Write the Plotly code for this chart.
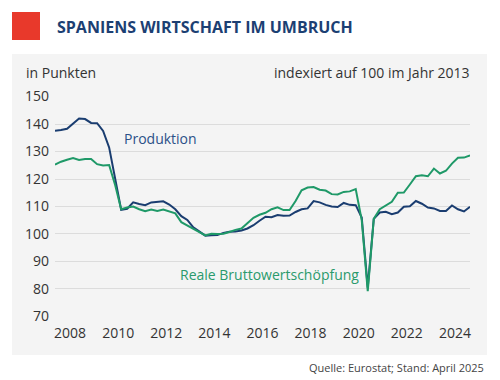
import plotly.graph_objects as go

# Quarterly data, 2007Q2 .. 2024Q3 (index 2013 = 100)
start_year, start_q = 2007, 2
produktion = [
    137.6, 137.8, 138.3, 140.3, 142.0, 141.8, 140.4, 140.3, 137.5, 131.5,
    120.4, 108.8, 109.2, 111.5, 110.9, 110.5, 111.5, 111.7, 111.9, 110.7,
    109.0, 106.5, 105.1, 102.4, 101.0, 99.4, 99.5, 99.6, 100.4, 100.8,
    100.9, 101.3, 102.0, 103.2, 104.8, 106.3, 106.1, 106.9, 106.6, 106.7,
    108.0, 109.0, 109.3, 112.0, 111.5, 110.6, 110.0, 109.8, 111.3, 110.6,
    110.5, 106.0, 80.5, 105.5, 107.8, 108.1, 107.2, 107.8, 109.9, 110.1,
    112.0, 111.0, 109.6, 109.3, 108.4, 108.4, 110.4, 109.0, 108.2, 109.9,
]
bws = [
    125.2, 126.3, 127.0, 127.6, 126.9, 127.3, 127.3, 125.4, 124.9, 125.1,
    117.8, 109.0, 109.6, 110.0, 109.0, 108.3, 108.9, 108.4, 108.9, 108.3,
    107.5, 104.3, 103.0, 101.8, 100.7, 99.5, 100.1, 100.0, 100.1, 100.7,
    101.5, 102.0, 104.0, 105.9, 107.0, 107.7, 109.0, 109.7, 108.7, 108.7,
    112.0, 115.9, 116.9, 117.1, 116.1, 115.8, 114.5, 114.4, 115.3, 115.5,
    116.3, 105.0, 79.2, 105.5, 109.0, 110.5, 111.7, 115.0, 115.1, 118.0,
    121.0, 121.4, 121.0, 123.8, 122.0, 123.0, 125.6, 127.7, 127.8, 128.6,
]
x_ticks = [2008, 2010, 2012, 2014, 2016, 2018, 2020, 2022, 2024]
y_ticks = [70, 80, 90, 100, 110, 120, 130, 140, 150]

# quarter -> mid-quarter position on a continuous year axis
quarters = []
y_, q_ = start_year, start_q
for _ in produktion:
    quarters.append((y_, q_))
    q_ += 1
    if q_ > 4:
        q_ = 1
        y_ += 1
xpos = [y + (q - 0.5) / 4 for y, q in quarters]

NAVY = "#1a3d70"
GREEN = "#1f9968"
FONT = "Open Sans"

fig = go.Figure()
fig.add_trace(go.Scatter(x=xpos, y=produktion, mode="lines",
                         line=dict(color=NAVY, width=2), name="Produktion"))
fig.add_trace(go.Scatter(x=xpos, y=bws, mode="lines",
                         line=dict(color=GREEN, width=2), name="Reale Bruttowertschöpfung"))

# pixel helpers for paper coords (plot area: x 55..470, y 96..317)
L, R, T, B = 55, 470, 96, 317
def px(x):
    return (x - L) / (R - L)
def py(y):
    return (B - y) / (B - T)

fig.update_layout(
    width=500, height=380,
    margin=dict(l=L, r=500 - R, t=T, b=380 - B),
    paper_bgcolor="white",
    plot_bgcolor="rgba(0,0,0,0)",
    showlegend=False,
    font=dict(family=FONT, color="#333333", size=14),
    xaxis=dict(range=[2007.375, 2024.625], tickvals=x_ticks,
               ticktext=[str(v) for v in x_ticks], showgrid=False,
               zeroline=False, showline=False, ticks="",
               ticklabelstandoff=6, tickfont=dict(size=14, color="#333333")),
    yaxis=dict(range=[69.8, 150.2], tickvals=y_ticks, showgrid=True,
               gridcolor="#dcdcdc", gridwidth=1, zeroline=False,
               showline=False, ticks="", ticklabelstandoff=5,
               tickfont=dict(size=14, color="#333333")),
    shapes=[
        dict(type="rect", xref="paper", yref="paper", layer="below",
             x0=px(12), x1=px(487), y0=py(355), y1=py(54),
             fillcolor="#f4f4f4", line=dict(width=0)),
        dict(type="rect", xref="paper", yref="paper",
             x0=px(12), x1=px(40), y0=py(40), y1=py(12),
             fillcolor="#e8392b", line=dict(width=0)),
    ],
    annotations=[
        dict(text="<b>SPANIENS WIRTSCHAFT IM UMBRUCH</b>", xref="paper", yref="paper",
             x=px(55), y=py(27), xanchor="left", yanchor="middle", showarrow=False,
             font=dict(family=FONT, size=16, color="#1c3f73")),
        dict(text="in Punkten", xref="paper", yref="paper",
             x=px(24), y=py(73), xanchor="left", yanchor="middle", showarrow=False,
             font=dict(family=FONT, size=14, color="#333333")),
        dict(text="indexiert auf 100 im Jahr 2013", xref="paper", yref="paper",
             x=px(472), y=py(73), xanchor="right", yanchor="middle", showarrow=False,
             font=dict(family=FONT, size=14, color="#333333")),
        dict(text="Produktion", xref="x", yref="y",
             x=2010.16, y=134.8, xanchor="left", yanchor="middle", showarrow=False,
             font=dict(family=FONT, size=14, color="#2b5088")),
        dict(text="Reale Bruttowertschöpfung", xref="x", yref="y",
             x=2012.49, y=85.2, xanchor="left", yanchor="middle", showarrow=False,
             font=dict(family=FONT, size=14, color="#2a9a6c")),
        dict(text="Quelle: Eurostat; Stand: April 2025", xref="paper", yref="paper",
             x=px(486), y=py(367), xanchor="right", yanchor="middle", showarrow=False,
             font=dict(family=FONT, size=11, color="#444444")),
    ],
)

fig.write_html("out.html", config={"displayModeBar": False},
               post_script="document.body.style.margin='0';")
